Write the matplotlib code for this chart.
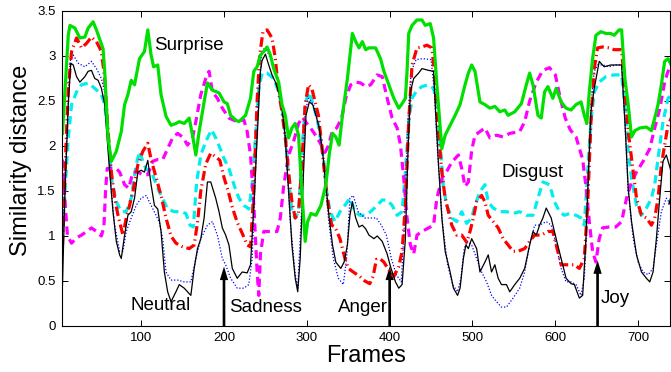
import matplotlib
matplotlib.use('Agg')
import matplotlib.pyplot as plt

plt.rcParams['font.family'] = ['Liberation Sans', 'DejaVu Sans']

# similarity distance per frame
green_pts = [(5, 2.14), (12, 3.23), (14, 3.34), (20, 3.31), (26, 3.2), (32, 3.21), (36, 3.31), (42, 3.38),
             (46, 3.29), (54, 3.08), (56, 2.83), (60, 2.09), (64, 1.83), (70, 1.94), (76, 2.16), (80, 2.46),
             (84, 2.57), (88, 2.73), (92, 2.68), (98, 2.97), (104, 3.05), (108, 3.29), (112, 3.01), (115, 2.88),
             (120, 2.9), (124, 2.57), (130, 2.33), (136, 2.23), (142, 2.25), (146, 2.27), (152, 2.25), (158, 2.31),
             (162, 2.12), (166, 1.9), (170, 2.16), (176, 2.49), (180, 2.7), (186, 2.62), (194, 2.59), (200, 2.49),
             (204, 2.47), (208, 2.34), (214, 2.29), (218, 2.27), (226, 2.34), (232, 2.53), (236, 2.83), (240, 2.88),
             (244, 3.01), (248, 3.05), (252, 3.1), (256, 3.01), (260, 2.86), (266, 2.71), (270, 2.46), (274, 2.34),
             (278, 2.09), (282, 2.2), (286, 2.25), (290, 2.12), (294, 1.49), (298, 0.94), (301, 1.16), (305, 1.25),
             (311, 1.23), (317, 1.34), (323, 1.57), (327, 1.9), (331, 2.14), (335, 2.1), (339, 2.01), (343, 2.34),
             (349, 2.75), (353, 3.09), (355, 3.25), (359, 3.16), (363, 3.09), (367, 3.16), (371, 3.07), (375, 3.09),
             (383, 3.09), (389, 2.97), (393, 2.83), (399, 2.68), (405, 2.53), (411, 2.42), (415, 2.47), (419, 2.53),
             (421, 2.83), (423, 3.25), (427, 3.34), (433, 3.4), (439, 3.4), (443, 3.34), (449, 3.36), (453, 3.2),
             (457, 2.68), (463, 1.97), (467, 2.12), (473, 2.23), (479, 2.34), (485, 2.46), (491, 2.68), (495, 2.81),
             (499, 2.9), (503, 2.83), (509, 2.49), (515, 2.46), (521, 2.42), (527, 2.44), (533, 2.38), (539, 2.4),
             (543, 2.34), (551, 2.38), (559, 2.47), (565, 2.68), (569, 2.81), (573, 2.68), (579, 2.34), (583, 2.31),
             (587, 2.6), (591, 2.66), (597, 2.53), (601, 2.64), (607, 2.49), (613, 2.42), (619, 2.4), (625, 2.46),
             (631, 2.49), (635, 2.34), (638, 2.25), (641, 2.6), (645, 2.97), (649, 3.23), (655, 3.27), (661, 3.25),
             (667, 3.25), (671, 3.23), (677, 3.29), (680, 3.29), (684, 2.75), (688, 2.46), (692, 2.1), (696, 2.17),
             (702, 2.2), (710, 2.21), (716, 2.17), (720, 2.31), (724, 2.46), (728, 2.68), (732, 2.94), (736, 2.97),
             (740, 2.9)]

red_pts = [(5, 0.9), (8, 1.71), (12, 2.64), (16, 3.05), (22, 3.2), (28, 3.09), (34, 3.14), (40, 3.21), (46, 3.16),
           (52, 3.05), (56, 2.75), (60, 2.16), (64, 1.71), (68, 1.42), (72, 1.23), (78, 1.01), (82, 1.2), (86, 1.34),
           (90, 1.49), (96, 1.79), (102, 1.94), (108, 2.03), (112, 1.85), (118, 1.65), (124, 1.45), (130, 1.2),
           (136, 1.0), (142, 0.92), (150, 0.88), (158, 0.86), (164, 0.9), (168, 1.15), (172, 1.5), (178, 1.8),
           (184, 1.92), (190, 1.88), (195, 1.84), (200, 1.65), (205, 1.5), (210, 1.32), (216, 1.15), (222, 1.03),
           (228, 0.9), (232, 0.88), (236, 1.5), (240, 2.5), (243, 3.0), (247, 3.27), (252, 3.29), (258, 3.2),
           (262, 2.97), (266, 2.6), (270, 2.38), (274, 2.09), (278, 1.71), (282, 1.38), (286, 1.2), (290, 1.25),
           (294, 1.8), (298, 2.46), (302, 2.68), (306, 2.64), (310, 2.49), (314, 2.34), (318, 2.01), (322, 1.64),
           (326, 1.34), (330, 1.12), (334, 1.1), (340, 0.97), (346, 0.75), (350, 0.64), (356, 0.6), (364, 0.55),
           (370, 0.5), (376, 0.47), (380, 0.55), (384, 0.74), (388, 0.75), (393, 0.71), (399, 0.62), (405, 0.55),
           (411, 0.66), (415, 0.83), (419, 1.34), (423, 2.27), (427, 2.9), (433, 3.09), (439, 3.1), (445, 3.12),
           (451, 3.09), (455, 2.72), (459, 2.16), (463, 1.71), (467, 1.42), (471, 1.27), (475, 1.12), (481, 1.01),
           (487, 1.01), (493, 0.93), (497, 1.05), (501, 1.2), (505, 1.38), (511, 1.45), (515, 1.38), (519, 1.23),
           (525, 1.16), (531, 1.09), (537, 0.97), (543, 0.9), (549, 0.83), (555, 0.83), (563, 0.86), (569, 0.94),
           (575, 1.01), (583, 1.01), (591, 1.05), (597, 1.05), (601, 0.9), (607, 0.68), (613, 0.68), (619, 0.68),
           (623, 0.68), (629, 0.64), (635, 0.75), (639, 1.34), (643, 2.27), (647, 2.86), (651, 3.09), (657, 3.1),
           (665, 3.09), (671, 3.07), (680, 3.07), (684, 2.64), (688, 2.16), (694, 1.71), (698, 1.42), (704, 1.23),
           (710, 1.2), (716, 1.12), (720, 1.2), (724, 1.42), (728, 1.79), (732, 2.01), (736, 2.23), (740, 2.31)]

black_pts = [(5, 0.45), (8, 1.49), (12, 2.46), (15, 2.92), (18, 2.9), (22, 2.77), (26, 2.71), (32, 2.77), (36, 2.83),
             (40, 2.84), (44, 2.75), (48, 2.73), (52, 2.64), (56, 2.46), (58, 2.2), (62, 1.71), (66, 1.27), (70, 0.94),
             (74, 0.79), (76, 0.75), (80, 1.01), (84, 1.23), (88, 1.27), (92, 1.42), (96, 1.71), (100, 1.73),
             (104, 1.71), (108, 1.84), (112, 1.57), (116, 1.34), (120, 1.3), (124, 1.05), (128, 0.6), (132, 0.38),
             (136, 0.27), (142, 0.38), (146, 0.46), (152, 0.42), (160, 0.34), (164, 0.64), (168, 0.86), (172, 0.97),
             (176, 1.2), (180, 1.6), (184, 1.6), (190, 1.42), (194, 1.27), (198, 1.09), (202, 1.01), (206, 0.9),
             (210, 0.64), (216, 0.53), (222, 0.6), (228, 0.59), (232, 0.68), (236, 1.34), (240, 2.09), (244, 2.83),
             (246, 2.95), (250, 3.02), (254, 2.9), (258, 2.79), (262, 2.71), (266, 2.6), (270, 2.42), (274, 2.09),
             (278, 1.49), (282, 0.9), (286, 0.53), (289, 0.38), (292, 0.75), (296, 1.71), (299, 2.34), (303, 2.49),
             (307, 2.46), (311, 2.34), (315, 2.2), (319, 1.94), (323, 1.57), (327, 1.2), (331, 0.9), (335, 0.71),
             (341, 0.64), (345, 0.71), (349, 0.9), (352, 1.23), (355, 1.38), (359, 1.2), (363, 1.1), (367, 1.12),
             (371, 1.08), (375, 1.01), (381, 0.97), (385, 1.0), (391, 0.94), (397, 0.8), (401, 0.66), (407, 0.49),
             (411, 0.42), (415, 0.46), (419, 0.97), (422, 1.9), (425, 2.6), (429, 2.75), (435, 2.81), (439, 2.86),
             (447, 2.84), (453, 2.83), (455, 2.46), (459, 1.79), (463, 1.2), (467, 0.83), (473, 0.6), (477, 0.42),
             (482, 0.34), (485, 0.42), (489, 0.75), (492, 0.9), (495, 0.86), (499, 0.97), (505, 0.86), (509, 0.6),
             (515, 0.71), (519, 0.79), (523, 0.6), (527, 0.68), (531, 0.53), (535, 0.46), (541, 0.46), (545, 0.38),
             (551, 0.46), (557, 0.53), (563, 0.64), (569, 0.9), (573, 1.05), (577, 1.01), (581, 1.12), (585, 1.2),
             (589, 1.31), (595, 1.2), (601, 0.97), (607, 0.75), (613, 0.53), (619, 0.47), (623, 0.46), (629, 0.31),
             (633, 0.34), (637, 0.97), (640, 1.71), (643, 2.38), (647, 2.64), (653, 2.94), (659, 2.88), (667, 2.9),
             (673, 2.9), (680, 2.9), (684, 2.27), (688, 1.53), (692, 1.16), (698, 0.79), (704, 0.6), (710, 0.53),
             (714, 0.49), (718, 0.6), (722, 0.97), (726, 1.42), (730, 1.83), (734, 1.9), (740, 1.71)]

blue_pts = [(5, 0.97), (10, 2.09), (14, 2.94), (18, 3.01), (24, 2.92), (32, 2.88), (40, 2.94), (46, 2.86), (52, 2.75),
            (56, 2.6), (60, 2.09), (64, 1.49), (68, 1.12), (74, 0.83), (78, 0.83), (82, 1.05), (88, 1.2), (94, 1.34),
            (100, 1.42), (106, 1.45), (112, 1.34), (118, 1.23), (122, 1.15), (126, 0.97), (130, 0.6), (136, 0.51),
            (144, 0.51), (152, 0.49), (160, 0.49), (166, 0.75), (172, 0.97), (180, 1.12), (186, 1.16), (192, 1.01),
            (198, 0.75), (202, 0.68), (208, 0.53), (216, 0.42), (224, 0.42), (230, 0.46), (234, 0.75), (238, 1.71),
            (242, 2.64), (246, 3.05), (250, 3.1), (256, 2.97), (264, 2.79), (270, 2.49), (274, 2.09), (280, 1.16),
            (286, 0.57), (289, 0.42), (294, 1.34), (298, 2.38), (302, 2.53), (308, 2.46), (314, 2.23), (320, 1.86),
            (326, 1.2), (332, 0.75), (338, 0.53), (344, 0.46), (348, 0.75), (352, 1.42), (356, 1.45), (362, 1.27),
            (370, 1.2), (376, 1.2), (384, 1.2), (390, 1.12), (396, 1.01), (402, 0.75), (408, 0.57), (414, 0.49),
            (418, 1.16), (422, 2.27), (426, 2.83), (432, 2.96), (440, 2.97), (450, 2.96), (454, 2.6), (458, 1.9),
            (464, 1.12), (470, 0.68), (476, 0.46), (482, 0.38), (486, 0.53), (490, 0.86), (494, 0.94), (499, 0.9),
            (505, 0.75), (511, 0.6), (517, 0.49), (523, 0.34), (529, 0.27), (535, 0.21), (541, 0.21), (549, 0.31),
            (557, 0.42), (563, 0.6), (569, 0.9), (575, 1.12), (581, 1.12), (589, 1.16), (595, 1.12), (601, 0.9),
            (607, 0.64), (613, 0.49), (619, 0.49), (625, 0.46), (631, 0.34), (635, 0.53), (639, 1.34), (643, 2.46),
            (647, 2.83), (651, 2.9), (657, 2.9), (665, 2.88), (673, 2.9), (680, 2.9), (684, 2.27), (688, 1.49),
            (694, 0.97), (700, 0.71), (706, 0.6), (712, 0.57), (718, 0.64), (722, 0.9), (728, 1.27), (734, 1.42),
            (740, 1.34)]

cyan_pts = [(5, 1.05), (8, 1.49), (12, 2.09), (16, 2.46), (22, 2.6), (28, 2.68), (36, 2.7), (44, 2.64), (52, 2.57),
            (56, 2.46), (60, 2.16), (64, 1.64), (70, 1.38), (76, 1.27), (82, 1.27), (88, 1.42), (94, 1.79), (98, 1.94),
            (102, 1.83), (106, 1.74), (112, 1.72), (118, 1.58), (124, 1.45), (132, 1.3), (140, 1.27), (148, 1.27),
            (154, 1.25), (159, 1.12), (163, 1.1), (167, 1.6), (172, 1.9), (178, 2.05), (185, 2.18), (190, 2.09),
            (195, 1.98), (200, 1.86), (206, 1.75), (212, 1.57), (218, 1.42), (224, 1.34), (230, 1.3), (234, 1.57),
            (238, 2.09), (242, 2.64), (246, 2.81), (252, 2.81), (260, 2.75), (266, 2.6), (270, 2.42), (274, 2.16),
            (278, 1.64), (282, 1.27), (286, 1.2), (290, 1.27), (294, 1.9), (298, 2.46), (302, 2.6), (308, 2.46),
            (314, 2.23), (320, 1.86), (324, 1.49), (328, 1.27), (334, 1.16), (340, 1.27), (346, 1.34), (352, 1.42),
            (358, 1.27), (364, 1.23), (370, 1.23), (377, 1.27), (385, 1.34), (391, 1.4), (397, 1.4), (403, 1.34),
            (409, 1.23), (415, 1.27), (419, 1.71), (423, 2.27), (427, 2.53), (433, 2.62), (439, 2.66), (447, 2.68),
            (453, 2.64), (457, 2.46), (461, 2.01), (465, 1.53), (469, 1.34), (475, 1.2), (481, 1.16), (487, 1.27),
            (493, 1.14), (499, 1.2), (503, 1.34), (509, 1.49), (515, 1.57), (519, 1.38), (525, 1.31), (533, 1.27),
            (541, 1.27), (549, 1.25), (557, 1.27), (565, 1.23), (573, 1.23), (579, 1.42), (585, 1.6), (593, 1.57),
            (599, 1.38), (605, 1.27), (611, 1.23), (617, 1.25), (625, 1.23), (631, 1.2), (635, 1.12), (639, 1.71),
            (643, 2.27), (647, 2.6), (653, 2.71), (661, 2.77), (671, 2.79), (680, 2.79), (684, 2.46), (688, 1.94),
            (692, 1.64), (698, 1.34), (704, 1.23), (710, 1.31), (716, 1.42), (720, 1.57), (724, 1.86), (730, 2.27),
            (736, 2.53), (740, 2.57)]

magenta_pts = [(5, 1.85), (8, 1.4), (11, 1.0), (16, 0.92), (22, 0.98), (28, 1.01), (34, 1.05), (40, 1.09), (46, 1.05),
               (52, 1.0), (55, 1.1), (57, 1.5), (59, 1.75), (64, 1.75), (70, 1.75), (74, 1.71), (80, 1.57), (85, 1.53),
               (90, 1.71), (96, 1.71), (102, 1.68), (108, 1.68), (114, 1.83), (120, 1.85), (126, 1.85), (132, 1.97),
               (138, 2.09), (144, 2.14), (150, 2.1), (156, 2.01), (162, 2.09), (166, 2.27), (172, 2.57), (178, 2.75),
               (182, 2.83), (186, 2.6), (192, 2.53), (198, 2.42), (206, 2.31), (216, 2.27), (224, 2.29), (228, 2.16),
               (232, 1.9), (236, 1.34), (240, 0.6), (242, 0.34), (244, 0.8), (248, 1.05), (256, 1.05), (264, 1.05),
               (268, 1.2), (272, 1.55), (278, 1.9), (284, 2.05), (290, 2.25), (295, 2.32), (300, 2.25), (306, 2.18),
               (312, 2.1), (318, 2.0), (322, 1.93), (326, 2.0), (330, 2.14), (336, 2.2), (342, 2.31), (347, 2.53),
               (353, 2.68), (359, 2.71), (365, 2.7), (371, 2.66), (377, 2.68), (385, 2.79), (391, 2.77), (397, 2.53),
               (403, 2.31), (409, 2.2), (413, 2.01), (417, 1.64), (421, 1.2), (425, 0.9), (429, 0.8), (433, 1.01),
               (439, 1.05), (447, 1.09), (453, 1.12), (457, 1.42), (463, 1.64), (469, 1.72), (475, 1.82), (483, 1.9),
               (487, 1.75), (491, 1.55), (495, 1.6), (499, 1.95), (503, 2.12), (509, 2.16), (515, 2.2), (521, 2.09),
               (529, 2.12), (537, 2.1), (545, 2.14), (557, 2.16), (563, 2.27), (569, 2.5), (577, 2.71), (585, 2.84),
               (593, 2.87), (600, 2.79), (606, 2.53), (612, 2.31), (618, 2.18), (625, 2.1), (633, 1.85), (637, 1.55),
               (641, 1.16), (645, 0.83), (649, 0.71), (653, 0.97), (657, 1.09), (665, 1.1), (673, 1.1), (680, 1.16),
               (686, 1.42), (692, 1.6), (698, 1.71), (706, 1.83), (714, 1.97), (720, 2.2), (726, 2.41), (732, 2.71),
               (736, 2.83), (740, 2.9)]

# emotion labels (text, frame, distance) and arrow markers (frame, tip height)
labels = [('Surprise', 158, 3.12), ('Neutral', 123, 0.23), ('Sadness', 250, 0.21),
          ('Anger', 368, 0.21), ('Disgust', 573, 1.7), ('Joy', 672, 0.31)]
arrow_frames = [200, 400, 651, 741]
arrow_tips = [0.66, 0.66, 0.73, 1.5]

x_ticks = [100, 200, 300, 400, 500, 600, 700]
y_ticks = [0, 0.5, 1, 1.5, 2, 2.5, 3, 3.5]
y_ticklabels = ['0', '0.5', '1', '1.5', '2', '2.5', '3', '3.5']


def unzip(pts):
    return [p[0] for p in pts], [p[1] for p in pts]


fig = plt.figure(figsize=(6.71, 3.72), dpi=100)
ax = fig.add_axes([0.0931, 0.1237, 0.9061, 0.8468])

x, y = unzip(cyan_pts)
ax.plot(x, y, color='#00eeee', lw=2.3, linestyle=(0, (2.6, 1.6)))
x, y = unzip(magenta_pts)
ax.plot(x, y, color='#ff00ff', lw=2.3, linestyle=(0, (2.6, 1.6)))
x, y = unzip(blue_pts)
ax.plot(x, y, color='#0000ff', lw=0.9, linestyle=(0, (1, 1.5)))
x, y = unzip(red_pts)
ax.plot(x, y, color='#ff0000', lw=2.3, linestyle=(0, (3.0, 1.2, 0.4, 1.2)))
x, y = unzip(black_pts)
ax.plot(x, y, color='black', lw=0.9)
x, y = unzip(green_pts)
ax.plot(x, y, color='#00e000', lw=2.3)

for txt, fx, fy in labels:
    ax.text(fx, fy, txt, fontsize=13.5, ha='center', va='center')

for fx, tip in zip(arrow_frames, arrow_tips):
    ax.arrow(fx, 0, 0, tip, width=3.2, head_width=10, head_length=0.15,
             length_includes_head=True, fc='black', ec='black', lw=0)

ax.set_xlim(5, 739)
ax.set_ylim(0, 3.5)
ax.set_xticks(x_ticks)
ax.set_yticks(y_ticks)
ax.set_yticklabels(y_ticklabels)
ax.tick_params(direction='in', top=True, right=True, length=4, width=0.7, labelsize=9.5)
ax.tick_params(axis='x', pad=4)
ax.tick_params(axis='y', pad=5)
for s in ax.spines.values():
    s.set_linewidth(0.8)

ax.set_xlabel('Frames', fontsize=17)
ax.set_ylabel('Similarity distance', fontsize=17)
ax.xaxis.set_label_coords(0.5, -0.06)
ax.yaxis.set_label_coords(-0.05, 0.527)

fig.savefig('out.png', dpi=100)
